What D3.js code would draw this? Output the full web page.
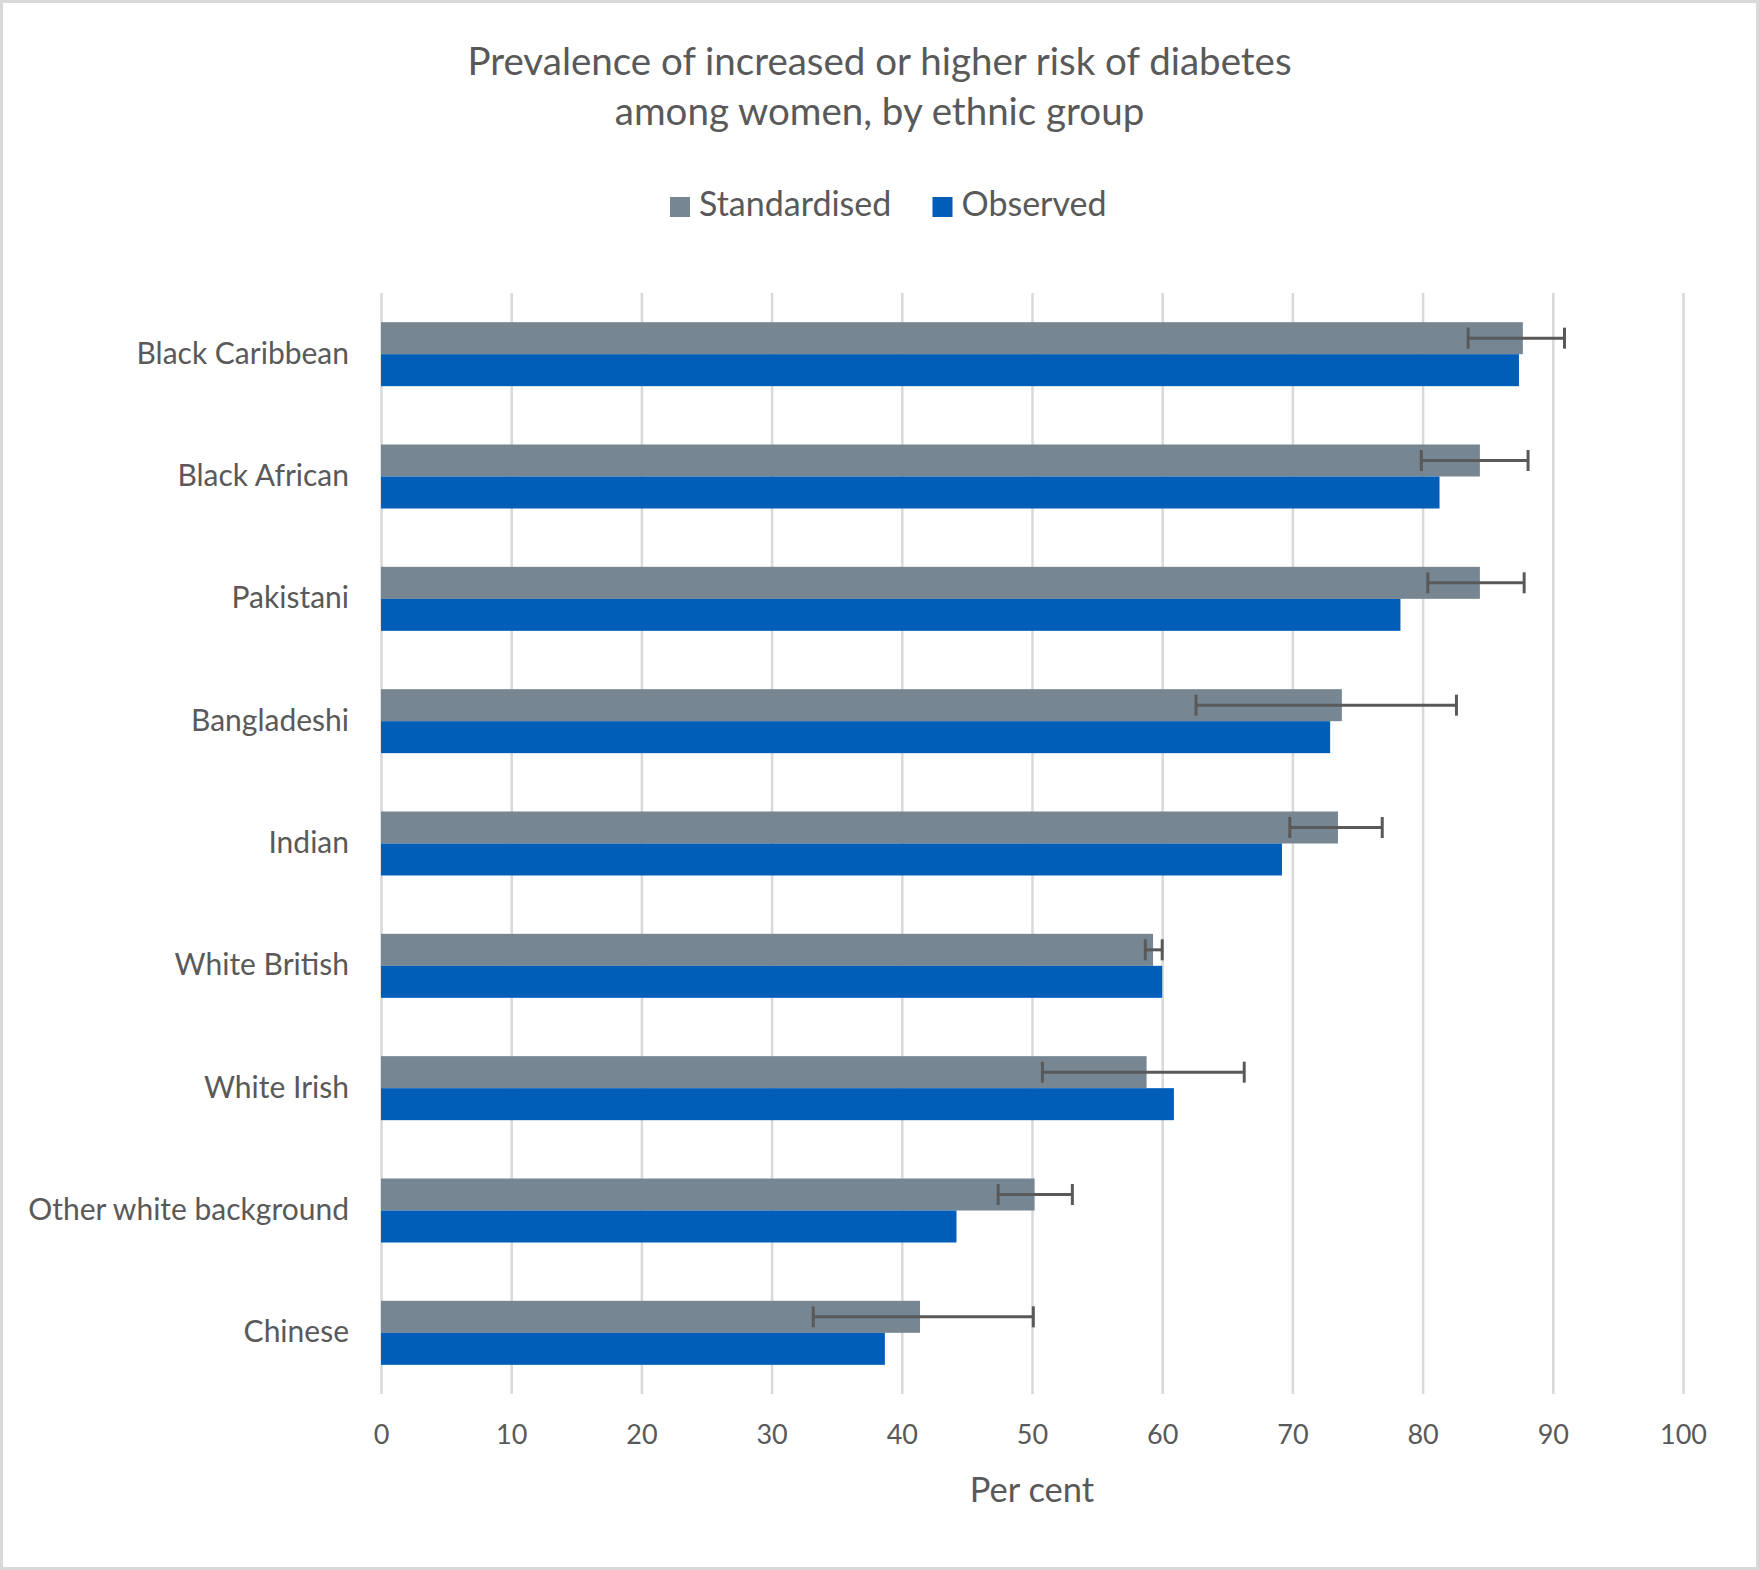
<!DOCTYPE html>
<html>
<head>
<meta charset="utf-8">
<script src="https://cdn.jsdelivr.net/npm/d3@7"></script>
<style>
  body { margin: 0; background: #fff; }
  text { font-family: Lato, "Open Sans", sans-serif; fill: #595959; }
</style>
</head>
<body>
<div id="dataviz"></div>
<script>
// values
const categories = ["Black Caribbean", "Black African", "Pakistani", "Bangladeshi", "Indian",
                    "White British", "White Irish", "Other white background", "Chinese"];
const standardised = [87.7, 84.4, 84.4, 73.8, 73.5, 59.3, 58.8, 50.2, 41.4];
const observed     = [87.4, 81.3, 78.3, 72.9, 69.2, 60.0, 60.9, 44.2, 38.7];
const ciLow        = [83.5, 79.9, 80.4, 62.6, 69.8, 58.7, 50.8, 47.4, 33.2];
const ciHigh       = [90.9, 88.1, 87.8, 82.6, 76.9, 60.0, 66.3, 53.1, 50.1];
const seriesNames  = ["Standardised", "Observed"];
const xTicks = [0, 10, 20, 30, 40, 50, 60, 70, 80, 90, 100];

const W = 1759, H = 1570;
const margin = {top: 293, right: 76, bottom: 176, left: 381},
    width = W - margin.left - margin.right,
    height = H - margin.top - margin.bottom;

const colors = {Standardised: "#768692", Observed: "#005EB8"};

const root = d3.select("#dataviz").append("svg")
    .attr("width", W)
    .attr("height", H);

// chart frame
root.append("rect")
    .attr("x", 1.5).attr("y", 1.5)
    .attr("width", W - 3).attr("height", H - 3)
    .attr("fill", "#fff")
    .attr("stroke", "#d9d9d9")
    .attr("stroke-width", 3);

// title
root.append("text")
    .attr("text-anchor", "middle")
    .attr("font-size", 38.5)
    .selectAll("tspan")
    .data(["Prevalence of increased or higher risk of diabetes", "among women, by ethnic group"])
    .join("tspan")
    .attr("x", W / 2)
    .attr("y", (d, i) => 75 + i * 50)
    .text(d => d);

// legend
const legend = root.append("g").attr("transform", "translate(670,197)");
const legendX = [0, 262.5];
const lg = legend.selectAll("g")
    .data(seriesNames)
    .join("g")
    .attr("transform", (d, i) => `translate(${legendX[i]},0)`);
lg.append("rect")
    .attr("width", 20).attr("height", 20)
    .attr("fill", d => colors[d]);
lg.append("text")
    .attr("x", 29).attr("y", 19)
    .attr("font-size", 34)
    .text(d => d);

const svg = root.append("g")
    .attr("transform", `translate(${margin.left}, ${margin.top})`);

const xScale = d3.scaleLinear()
    .domain([0, 100])
    .range([0, width]);

const yScale = d3.scaleBand()
    .domain(categories)
    .range([0, height]);

// the two bars of a group, 64px tall in total, centred in the band
const groupH = 64;
const subScale = d3.scaleBand()
    .domain(seriesNames)
    .range([0, groupH]);

// x axis with gridlines
const xAxis = svg.append("g")
    .attr("transform", `translate(0,${height})`)
    .call(d3.axisBottom(xScale).tickValues(xTicks).tickSize(-height).tickPadding(31));
xAxis.select(".domain").remove();
xAxis.selectAll(".tick line").attr("stroke", "#d9d9d9").attr("stroke-width", 2.5);
xAxis.selectAll(".tick text")
    .attr("font-size", 27)
    .attr("fill", "#595959");

// y axis labels
const yAxis = svg.append("g")
    .call(d3.axisLeft(yScale).tickSize(0).tickPadding(32));
yAxis.select(".domain").remove();
yAxis.selectAll(".tick text")
    .attr("font-size", 30)
    .attr("fill", "#595959");

// build rows for the bars
const rows = [];
categories.forEach((c, i) => {
    rows.push({cat: c, series: "Standardised", value: standardised[i]});
    rows.push({cat: c, series: "Observed", value: observed[i]});
});

const groupTop = c => yScale(c) + yScale.bandwidth() / 2 - groupH / 2;

svg.selectAll("rect.bar")
    .data(rows)
    .join("rect")
    .attr("class", "bar")
    .attr("x", xScale(0))
    .attr("y", d => groupTop(d.cat) + subScale(d.series))
    .attr("width", d => xScale(d.value) - xScale(0))
    .attr("height", subScale.bandwidth())
    .attr("fill", d => colors[d.series]);

// error bars on the standardised series
const errs = categories.map((c, i) => ({cat: c, lo: ciLow[i], hi: ciHigh[i]}));
const errY = d => groupTop(d.cat) + subScale("Standardised") + subScale.bandwidth() / 2;
const eg = svg.append("g")
    .attr("stroke", "#595959")
    .attr("stroke-width", 3);
eg.selectAll("line.span")
    .data(errs)
    .join("line")
    .attr("class", "span")
    .attr("x1", d => xScale(d.lo))
    .attr("x2", d => xScale(d.hi))
    .attr("y1", errY)
    .attr("y2", errY);
["lo", "hi"].forEach(k => {
    eg.selectAll("line.cap-" + k)
        .data(errs)
        .join("line")
        .attr("class", "cap-" + k)
        .attr("x1", d => xScale(d[k]))
        .attr("x2", d => xScale(d[k]))
        .attr("y1", d => errY(d) - 10.5)
        .attr("y2", d => errY(d) + 10.5);
});

// axis title
svg.append("text")
    .attr("x", width / 2)
    .attr("y", 1502 - margin.top)
    .attr("text-anchor", "middle")
    .attr("font-size", 34.5)
    .text("Per cent");
</script>
</body>
</html>
